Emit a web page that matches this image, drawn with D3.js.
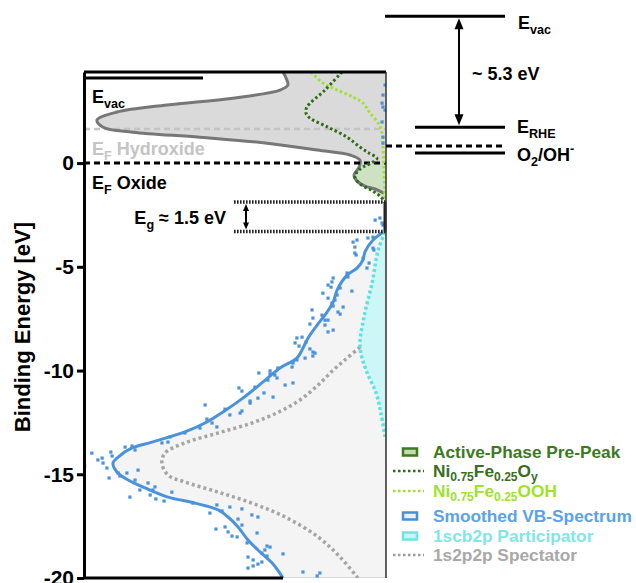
<!DOCTYPE html>
<html><head><meta charset="utf-8">
<script src="https://cdn.jsdelivr.net/npm/d3@7"></script>
<style>
html,body{margin:0;padding:0;background:#fff;}
svg text{font-family:"Liberation Sans",Arial,sans-serif;font-weight:bold;}
</style></head>
<body><svg id="c" width="636" height="583"></svg>
<script>
// ---------- data ----------
const yTicks = [0, -5, -10, -15, -20];
const yLabel = "Binding Energy [eV]";

// Smoothed VB spectrum (energy eV, intensity a.u.)
const vbE = [-3.33,-3.71,-4.29,-4.67,-5.06,-5.40,-6.12,-6.70,-7.18,-7.81,-8.43,-8.92,-9.40,-9.88,-10.55,-11.33,-12.00,-12.48,-12.96,-13.45,-13.73,-14.17,-14.46,-14.89,-15.28,-15.66,-16.10,-16.39,-16.72,-17.06,-17.54,-18.17,-18.65,-19.28,-20.0];
const vbI = [1.0,4.3,7.0,7.6,9.6,12.9,16.2,17.5,19.5,22.8,25.8,27.5,29.5,35.1,40.7,47.4,54.0,59.3,66.6,77.5,84.1,88.7,90.4,89.1,85.4,79.8,72.2,63.2,55.6,52.3,49.0,45.7,42.4,37.7,34.1];

// 1s2p2p spectator
const specE = [-8.87,-9.49,-9.98,-10.70,-11.42,-12.00,-12.53,-13.01,-13.49,-13.98,-14.46,-15.04,-15.37,-15.86,-16.39,-17.06,-18.02,-18.99,-20.0];
const specI = [8.6,13.6,17.5,22.5,28.5,35.5,44.4,55.6,66.6,73.2,74.2,72.2,66.6,55.6,44.4,33.4,22.5,15.2,9.3];

// 1scb2p participator
const partE = [-3.33,-4.19,-5.78,-7.42,-8.87,-9.98,-11.08,-12.05,-13.2];
const partI = [0.3,2.6,4.6,7.3,8.6,6.6,3.3,1.7,0.3];

// Hydroxide DOS (grey)
const hydE = [4.39,4.10,3.76,3.52,3.13,2.80,2.46,2.07,1.73,1.49,1.25,0.96,0.63,0.39,0.14,-0.19,-0.58,-0.87,-1.11,-1.25,-1.45];
const hydI = [34.1,33.1,32.5,35.1,50.7,72.5,89.1,95.7,93.7,83.8,61.6,39.4,22.8,11.9,8.6,8.9,10.6,9.6,7.0,3.6,0.7];

// Ni0.75Fe0.25Oy
const oyE = [4.39,3.52,2.70,2.41,2.17,1.73,1.25,0.77,0.48,0.24,0.05,-0.19,-0.43,-0.67,-1.01,-1.30,-1.59,-1.88];
const oyI = [14.6,20.2,26.2,26.5,25.2,19.2,12.9,8.6,5.6,3.0,4.3,7.6,9.6,10.3,8.6,5.0,2.0,0.3];

// Ni0.75Fe0.25OOH
const oohE = [4.39,3.86,3.52,3.18,2.89,2.41,1.93,1.45,0.77,-0.1,-1.78];
const oohI = [24.8,20.9,16.2,10.9,7.6,5.3,2.6,1.3,1.0,0.7,0.3];

// Active-phase pre-peak
const preE = [0,-0.19,-0.43,-0.67,-1.01,-1.30,-1.59,-1.88];
const preI = [8.4,8.9,9.8,10.5,8.6,5.0,2.0,0.3];

// raw VB data points
const ptE = [3.76,3.28,2.89,2.70,2.55,1.98,1.25,0.96,-2.75,-2.65,-2.89,-2.99,
-3.81,-3.71,-4.05,-3.61,-3.57,-4.10,-4.19,-4.34,-4.43,-4.58,-4.82,-5.06,-5.30,-5.49,-5.54,-5.73,-5.88,-5.98,-6.02,-6.17,-6.27,-6.51,-6.36,-6.60,-6.75,-6.89,-6.94,-7.18,-7.28,-7.08,-7.47,-7.76,-7.33,-7.57,-7.57,-7.81,-8.14,-8.05,-8.43,-8.39,-8.67,-8.82,-8.63,-8.96,-9.11,-9.30,-9.16,-9.40,-9.49,-9.64,-9.83,-9.88,-10.02,-10.17,-10.22,-10.36,-10.46,-10.12,-10.60,-10.70,-10.80,-10.84,-10.99,-11.08,-11.28,-11.33,-11.47,-11.57,-11.66,-11.86,-12.14,-11.95,-12.05,-12.34,-12.53,
-12.72,-12.77,-13.01,-13.20,-13.49,-13.45,-13.64,-13.69,-13.83,-13.98,-13.93,-14.12,-14.31,-14.22,-14.46,-14.70,-14.94,-14.94,-14.80,-15.08,-15.18,-15.28,-15.42,-15.61,-15.76,-15.76,-16.00,-15.86,-16.10,-16.19,-16.29,-16.39,-16.48,-16.87,-16.77,-16.58,-16.67,-16.96,-17.06,-17.16,-17.45,-17.64,-17.54,-17.78,-17.98,-18.02,-17.83,-18.31,-18.46,-18.51,-18.65,-18.80,-18.84,-18.94,-18.99,-19.13,-19.23,-19.33,-19.42,-19.52,-19.71,-19.90,-19.76,-14.60];
const ptI = [0.3,1.0,1.3,1.0,0.3,1.3,1.0,1.0,3.6,2.0,1.3,1.0,
10.9,9.6,10.3,6.0,4.3,4.3,4.0,10.3,9.9,7.6,5.6,6.3,12.9,12.6,17.5,17.9,19.2,18.2,15.2,11.3,20.9,19.2,16.2,16.9,17.9,17.5,14.2,15.9,15.2,24.5,24.2,25.2,21.2,20.2,19.2,20.2,19.2,17.5,29.5,27.8,30.1,28.8,26.5,25.2,24.2,24.2,23.5,26.8,29.5,30.8,31.1,35.8,38.4,38.4,36.8,36.1,39.1,42.1,30.8,33.4,43.4,48.7,47.7,40.4,37.4,42.4,45.0,45.0,59.9,53.3,51.7,47.7,48.3,59.3,57.6,
56.0,61.6,66.6,71.5,74.2,72.2,84.1,86.4,83.1,97.4,91.1,90.7,95.4,94.0,93.7,92.4,88.7,85.8,82.1,88.1,91.7,83.1,78.8,76.5,77.2,81.5,78.1,70.9,84.8,76.2,73.5,63.9,56.0,58.3,54.3,51.7,47.7,44.4,42.4,49.0,47.7,56.3,53.3,52.3,51.0,49.3,42.7,46.0,39.4,38.4,40.1,41.1,34.1,39.4,45.7,44.0,41.1,42.4,44.0,45.7,27.5,22.8,21.9,99.8];

// energy levels
const evacLeft = 4.10, efHydroxide = 1.64, efOxide = 0;
const egTop = -1.88, egBottom = -3.30;
const evacRight = 7.08, eRHE = 1.73, eDashRight = 0.82, eO2 = 0.48;

const legendItems = [
  {type:"rect", fill:"#c3dab5", stroke:"#3d7a1f", color:"#3d7a1f", parts:[["Active-Phase Pre-Peak",0]]},
  {type:"dot", stroke:"#2f6a17", color:"#3a6e1c", parts:[["Ni",0],["0.75",1],["Fe",0],["0.25",1],["O",0],["y",1]]},
  {type:"dot", stroke:"#9ee22e", color:"#9ee22e", parts:[["Ni",0],["0.75",1],["Fe",0],["0.25",1],["OOH",0]]},
  {type:"rect", fill:"#e9f1fa", stroke:"#4a8fd6", color:"#5aa2ec", parts:[["Smoothed VB-Spectrum",0]]},
  {type:"rect", fill:"#c8f6f6", stroke:"#72e2e4", color:"#82e6e8", parts:[["1scb2p Participator",0]]},
  {type:"dot", stroke:"#9d9d9d", color:"#a8a8a8", parts:[["1s2p2p Spectator",0]]}
];
const legendRowY = [452, 471, 491, 516, 536, 555];

// ---------- drawing ----------
const svg = d3.select("#c");
const pL = 84, pR = 386, pT = 72, pB = 578;
const y = d3.scaleLinear().domain([-20, 4.39]).range([pB, pT]);
const x = d3.scaleLinear().domain([0, 100]).range([pR, pL]);
const zip = (E, I) => E.map((e, k) => ({e, i: I[k]}));

const vb = zip(vbE, vbI), spec = zip(specE, specI), part = zip(partE, partI);
const hyd = zip(hydE, hydI), oy = zip(oyE, oyI), ooh = zip(oohE, oohI), pre = zip(preE, preI);

const line = d3.line().x(d => x(d.i)).y(d => y(d.e)).curve(d3.curveCatmullRom.alpha(0.5));
const area = d3.area().y(d => y(d.e)).x0(x(0)).x1(d => x(d.i)).curve(d3.curveCatmullRom.alpha(0.5));

svg.append("defs").append("clipPath").attr("id","pc")
  .append("rect").attr("x", pL).attr("y", pT).attr("width", pR-pL).attr("height", pB-pT);
const g = svg.append("g").attr("clip-path","url(#pc)");

// fills
g.append("path").datum(hyd).attr("d", area).attr("fill","#dadada");
g.append("path").datum(pre).attr("d", area).attr("fill","#cde2c2");
g.append("path").datum(vb).attr("d", area).attr("fill","#f4f4f4").attr("stroke","#bdbdbd").attr("stroke-width",1);
g.append("path").datum(part).attr("d", area).attr("fill","#cdf7f7");

// dashed Fermi levels
g.append("line").attr("x1",pL).attr("x2",pR).attr("y1",y(efHydroxide)).attr("y2",y(efHydroxide))
  .attr("stroke","#c4c4c4").attr("stroke-width",2.5).attr("stroke-dasharray","6,4");
// curves
g.append("path").datum(hyd).attr("d", line).attr("fill","none").attr("stroke","#777").attr("stroke-width",3);
g.append("line").attr("x1",pL).attr("x2",pR).attr("y1",y(efOxide)).attr("y2",y(efOxide))
  .attr("stroke","#000").attr("stroke-width",3).attr("stroke-dasharray","6,4");

g.append("path").datum(ooh).attr("d", line).attr("fill","none").attr("stroke","#9ee22e").attr("stroke-width",3).attr("stroke-dasharray","2.5,2.5");
g.append("path").datum(oy).attr("d", line).attr("fill","none").attr("stroke","#2f6a17").attr("stroke-width",3).attr("stroke-dasharray","2.5,2.5");
g.append("path").datum(spec).attr("d", line).attr("fill","none").attr("stroke","#a5a5a5").attr("stroke-width",3.5).attr("stroke-dasharray","3,3");
g.append("path").datum(part).attr("d", line).attr("fill","none").attr("stroke","#5fe1e4").attr("stroke-width",3.5).attr("stroke-dasharray","3,2.5");

// data points
g.selectAll("rect.pt").data(zip(ptE, ptI)).enter().append("rect")
  .attr("x", d => x(d.i) - 1.6).attr("y", d => y(d.e) - 1.6).attr("width",3.2).attr("height",3.2)
  .attr("fill","#4a92dc");
g.append("path").datum(vb).attr("d", line).attr("fill","none").attr("stroke","#4a92dc").attr("stroke-width",3);

// band gap lines
[egTop, egBottom].forEach(v => {
  svg.append("line").attr("x1",234).attr("x2",pR).attr("y1",y(v)).attr("y2",y(v))
    .attr("stroke","#222").attr("stroke-width",3.5).attr("stroke-dasharray","1.6,1.4");
});
svg.append("line").attr("x1",pR-1).attr("x2",pR-1).attr("y1",y(egTop)).attr("y2",y(egBottom))
  .attr("stroke","#222").attr("stroke-width",3);

// arrow helper
function dblArrow(x0, y0, y1, hw, hl) {
  svg.append("line").attr("x1",x0).attr("x2",x0).attr("y1",y0+hl-1).attr("y2",y1-hl+1).attr("stroke","#000").attr("stroke-width",2);
  svg.append("path").attr("d",`M${x0},${y0} L${x0-hw},${y0+hl} L${x0+hw},${y0+hl} Z`).attr("fill","#000");
  svg.append("path").attr("d",`M${x0},${y1} L${x0-hw},${y1-hl} L${x0+hw},${y1-hl} Z`).attr("fill","#000");
}
dblArrow(246, y(egTop)+2, y(egBottom)-2, 3, 7);

// frame
svg.append("line").attr("x1",pL).attr("x2",pR).attr("y1",pT).attr("y2",pT).attr("stroke","#000").attr("stroke-width",3);
svg.append("line").attr("x1",pR).attr("x2",pR).attr("y1",pT).attr("y2",pB).attr("stroke","#333").attr("stroke-width",1.5);
svg.append("line").attr("x1",pL).attr("x2",x(vbI[vbI.length-1])).attr("y1",pB).attr("y2",pB).attr("stroke","#000").attr("stroke-width",3);

// Evac left
svg.append("line").attr("x1",pL).attr("x2",203).attr("y1",y(evacLeft)).attr("y2",y(evacLeft)).attr("stroke","#000").attr("stroke-width",3);

// axis
const ax = svg.append("g").attr("transform",`translate(${pL},0)`)
  .call(d3.axisLeft(y).tickValues(yTicks).tickSize(7).tickSizeOuter(0).tickPadding(3).tickFormat(d => String(d)));
ax.select(".domain").attr("stroke","#000").attr("stroke-width",3);
ax.selectAll(".tick line").attr("stroke","#000").attr("stroke-width",3);
ax.selectAll(".tick text").attr("font-size",21).attr("font-family","Liberation Sans, Arial, sans-serif").attr("font-weight","bold").attr("fill","#000");

svg.append("text").attr("transform","translate(30,327) rotate(-90)").attr("text-anchor","middle")
  .attr("font-size",22).attr("fill","#000").text(yLabel);

// rich text helper
function rich(xp, yp, parts, size, color, anchor, subShift) {
  const t = svg.append("text").attr("x",xp).attr("y",yp).attr("font-size",size).attr("fill",color);
  if (anchor) t.attr("text-anchor",anchor);
  const ss = subShift === undefined ? 0.3 : subShift;
  let state = 0;
  parts.forEach(([s, k]) => {
    const sp = t.append("tspan").text(s);
    const target = k === 1 ? ss*size : (k === 2 ? -0.45*size : 0);
    const dy = target - state;
    if (dy !== 0) sp.attr("dy", dy);
    if (k !== 0) sp.attr("font-size", size*0.7);
    state = target;
  });
  return t;
}
rich(92, 103, [["E",0],["vac",1]], 18, "#000");
rich(92, 155, [["E",0],["F",1],[" Hydroxide",0]], 18, "#c4c4c4");
rich(92, 189, [["E",0],["F",1],[" Oxide",0]], 18, "#000");
rich(226, 224, [["E",0],["g",1],[" \u2248 1.5 eV",0]], 18, "#000", "end");

// right side diagram
svg.append("line").attr("x1",385).attr("x2",505).attr("y1",y(evacRight)).attr("y2",y(evacRight)).attr("stroke","#000").attr("stroke-width",3);
svg.append("line").attr("x1",415).attr("x2",505).attr("y1",y(eRHE)).attr("y2",y(eRHE)).attr("stroke","#000").attr("stroke-width",3);
svg.append("line").attr("x1",pR).attr("x2",505).attr("y1",y(eDashRight)).attr("y2",y(eDashRight)).attr("stroke","#000").attr("stroke-width",3).attr("stroke-dasharray","6,4");
svg.append("line").attr("x1",415).attr("x2",505).attr("y1",y(eO2)).attr("y2",y(eO2)).attr("stroke","#000").attr("stroke-width",3);
dblArrow(459, y(evacRight)+2, y(eRHE)-2, 4.5, 11);
rich(518, 29, [["E",0],["vac",1]], 18, "#000");
rich(472, 80, [["~ 5.3 eV",0]], 18, "#000");
rich(517, 133, [["E",0],["RHE",1]], 18, "#000");
rich(517, 161, [["O",0],["2",1],["/OH",0],["-",2]], 18, "#000");

// legend
const lg = svg.append("g");
legendItems.forEach((it, k) => {
  const cy = legendRowY[k];
  if (it.type === "rect") {
    lg.append("rect").attr("x",403).attr("y",cy-3.5).attr("width",14).attr("height",7)
      .attr("fill",it.fill).attr("stroke",it.stroke).attr("stroke-width",2.5);
  } else {
    lg.append("line").attr("x1",393).attr("x2",424).attr("y1",cy).attr("y2",cy)
      .attr("stroke",it.stroke).attr("stroke-width",2.5).attr("stroke-dasharray","2.5,2.5");
  }
  rich(433, cy+6, it.parts, 17.3, it.color, null, 0.22);
});
</script></body></html>
